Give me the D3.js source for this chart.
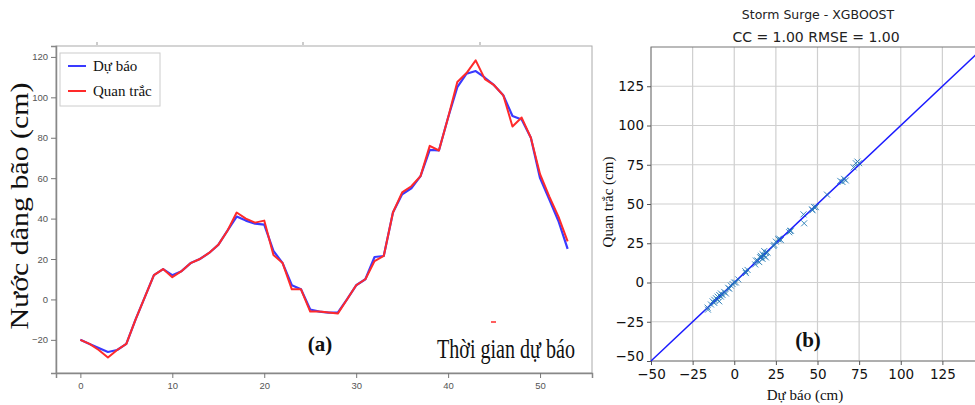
<!DOCTYPE html>
<html>
<head>
<meta charset="utf-8">
<script src="https://cdn.jsdelivr.net/npm/d3@7"></script>
<style>
  html, body { margin: 0; padding: 0; background: #fff; }
  svg { display: block; }
</style>
</head>
<body>
<svg id="chart" width="975" height="405"></svg>
<script>
// (a) chuỗi thời gian nước dâng: dự báo vs quan trắc
const steps = d3.range(0, 54)
const duBao = [-20, -22, -24, -26, -25, -22, -10, 1, 12, 15, 12, 14, 18, 20, 23, 27, 34, 41, 39, 37.5, 37,
  24, 18, 7, 5, -5, -6, -6.5, -6.5, 0, 7, 10, 21, 21.5, 43, 52, 55, 61, 74, 73.7, 90,
  105, 111.7, 113, 109.7, 106, 101, 90.8, 89, 80, 60, 49.5, 38.8, 25]
const quanTrac = [-20, -22, -25, -28.7, -25, -22, -10, 1, 12, 15, 11, 14, 18, 20, 23, 27, 34, 43, 40, 38, 39,
  22, 18, 5, 5, -6, -6, -6.5, -7, 0, 7, 10, 19, 21.5, 43, 53, 56, 61, 76, 73.7, 90,
  107.6, 112, 118.3, 109, 106, 101, 85.6, 90, 80, 62, 51, 41, 28.7]
const xTicksA = [0, 10, 20, 30, 40, 50]
const yTicksA = [-20, 0, 20, 40, 60, 80, 100, 120]

// (b) scatter: dự báo (x) vs quan trắc (y)
const scatX = [-16, -15.8, -14, -13, -12, -11, -10, -10, -9, -8, -8, -7, -6, -12, -9, -5, -3.6, -3, -2, -1, 0, 1,
  2.4, 6.6, 7, 8, 12.6, 13, 14, 15, 15.6, 16, 16, 17, 17, 18, 18, 19, 19, 20, 23.6, 24, 25, 26.5, 27, 28,
  33, 33.6, 34, 42, 41.6, 46.7, 47, 48, 49, 55.7, 63.7, 65, 66, 67, 71.7, 73, 74, 75]
const scatY = [-16, -17.3, -14, -12, -13, -10, -11, -9, -8, -9, -7, -8, -6, -11, -12, -7, -3.4, -4, -2, -1, 0, 0,
  2, 7.2, 6, 8, 11.5, 14, 14, 13, 16, 16, 17, 15, 18, 17, 20, 19, 16, 19, 23.2, 24, 26, 27.5, 28, 27,
  32, 32.8, 33, 37.7, 43.4, 46.6, 46, 48, 48, 56, 64.7, 64, 66, 65, 73.3, 76, 77, 76]
const ticksB = [-50, -25, 0, 25, 50, 75, 100, 125]

const svg = d3.select('#chart')
const serif = 'Liberation Serif, Times New Roman, serif'
const mpl = 'DejaVu Sans, sans-serif'

// ---------- panel (a) ----------
const xA = d3.scaleLinear().domain([-2.65, 55.65]).range([56, 592])
const yA = d3.scaleLinear().domain([-36.4, 125.4]).range([373, 46])

const gA = svg.append('g')

gA.append('rect')
  .attr('x', 56).attr('y', 46).attr('width', 536).attr('height', 327)
  .attr('fill', 'none').attr('stroke', '#aaa').attr('stroke-width', 1)

gA.append('g')
  .attr('transform', 'translate(0,373)')
  .call(d3.axisBottom(xA).tickValues(xTicksA).tickSize(5).tickPadding(4))
  .call(g => g.select('.domain').attr('stroke', '#888').attr('stroke-width', 1.5))
  .call(g => g.selectAll('line').attr('stroke', '#777'))
  .call(g => g.selectAll('text').attr('font-family', 'Liberation Sans, Arial, sans-serif').attr('font-size', 9.5).attr('fill', '#555'))

gA.append('g')
  .attr('transform', 'translate(56,0)')
  .call(d3.axisLeft(yA).tickValues(yTicksA).tickSize(5).tickPadding(3))
  .call(g => g.select('.domain').attr('stroke', '#888').attr('stroke-width', 1.5))
  .call(g => g.selectAll('line').attr('stroke', '#777'))
  .call(g => g.selectAll('text').attr('font-family', 'Liberation Sans, Arial, sans-serif').attr('font-size', 9.5).attr('fill', '#555'))

// little marks on the top border
gA.selectAll('.topmark').data([97, 303, 480]).join('line')
  .attr('x1', d => d).attr('x2', d => d).attr('y1', 42).attr('y2', 45)
  .attr('stroke', '#999').attr('stroke-width', 1)

const lineA = arr => d3.line().x((d, i) => xA(steps[i])).y(d => yA(d))(arr)

gA.append('path').attr('d', lineA(duBao))
  .attr('fill', 'none').attr('stroke', '#3a3aff').attr('stroke-width', 2.2).attr('stroke-linejoin', 'round')
gA.append('path').attr('d', lineA(quanTrac))
  .attr('fill', 'none').attr('stroke', '#ff2a2a').attr('stroke-width', 2).attr('stroke-linejoin', 'round')

// legend
const leg = gA.append('g')
leg.append('rect').attr('x', 60).attr('y', 53).attr('width', 100).attr('height', 53)
  .attr('fill', '#fff').attr('stroke', '#ccc')
const legItems = [['Dự báo', '#3a3aff'], ['Quan trắc', '#ff2a2a']]
legItems.forEach(([name, col], i) => {
  const y = 66 + i * 25
  leg.append('line').attr('x1', 68).attr('x2', 86).attr('y1', y).attr('y2', y)
    .attr('stroke', col).attr('stroke-width', 2)
  leg.append('text').attr('x', 93).attr('y', y + 5).text(name)
    .attr('font-family', serif).attr('font-size', 15).attr('fill', '#111')
})

gA.append('text')
  .attr('transform', 'translate(28,206) rotate(-90)')
  .attr('text-anchor', 'middle')
  .attr('font-family', serif).attr('font-size', 26)
  .attr('textLength', 247).attr('lengthAdjust', 'spacingAndGlyphs')
  .attr('fill', '#111')
  .text('Nước dâng bão (cm)')

gA.append('text').attr('x', 320).attr('y', 351).attr('text-anchor', 'middle')
  .attr('font-family', serif).attr('font-weight', 'bold').attr('font-size', 21).attr('fill', '#111')
  .text('(a)')

gA.append('text').attr('x', 437).attr('y', 358)
  .attr('font-family', serif).attr('font-size', 27)
  .attr('textLength', 138).attr('lengthAdjust', 'spacingAndGlyphs').attr('fill', '#111')
  .text('Thời gian dự báo')

gA.append('line').attr('x1', 491).attr('x2', 496).attr('y1', 322).attr('y2', 322)
  .attr('stroke', '#ff2a2a').attr('stroke-width', 1.5)

// ---------- panel (b) ----------
const xB = d3.scaleLinear().domain([-50, 150]).range([651, 984])
const yB = d3.scaleLinear().domain([-50, 150]).range([361, 47])

const gB = svg.append('g')

gB.append('g').selectAll('line.gx').data(ticksB).join('line')
  .attr('x1', d => xB(d)).attr('x2', d => xB(d)).attr('y1', 47).attr('y2', 361)
  .attr('stroke', '#cfcfcf').attr('stroke-width', 1.2)
gB.append('g').selectAll('line.gy').data(ticksB).join('line')
  .attr('x1', 651).attr('x2', 984).attr('y1', d => yB(d)).attr('y2', d => yB(d))
  .attr('stroke', '#cfcfcf').attr('stroke-width', 1.2)

gB.append('rect').attr('x', 651).attr('y', 47).attr('width', 333).attr('height', 314)
  .attr('fill', 'none').attr('stroke', '#777').attr('stroke-width', 1)

const fmt = d => d < 0 ? '\u2212' + Math.abs(d) : String(d)

gB.append('g')
  .attr('transform', 'translate(0,361)')
  .call(d3.axisBottom(xB).tickValues(ticksB).tickFormat(fmt).tickSize(4).tickPadding(4))
  .call(g => g.select('.domain').remove())
  .call(g => g.selectAll('line').attr('stroke', '#555'))
  .call(g => g.selectAll('text').attr('font-family', mpl).attr('font-size', 13.5).attr('fill', '#111'))

gB.append('g')
  .attr('transform', 'translate(651,0)')
  .call(d3.axisLeft(yB).tickValues(ticksB).tickFormat(fmt).tickSize(4).tickPadding(3))
  .call(g => g.select('.domain').remove())
  .call(g => g.selectAll('line').attr('stroke', '#555'))
  .call(g => g.selectAll('text').attr('font-family', mpl).attr('font-size', 13.5).attr('fill', '#111'))
  .call(g => g.selectAll('.tick').filter(d => d === -50).select('text').attr('dy', '-0.05em'))

// 1:1 line
gB.append('line')
  .attr('x1', xB(-50)).attr('y1', yB(-50)).attr('x2', xB(150)).attr('y2', yB(150))
  .attr('stroke', '#1a1aff').attr('stroke-width', 1.5)

// x markers
const pts = scatX.map((x, i) => [x, scatY[i]])
gB.append('g').selectAll('path.pt').data(pts).join('path')
  .attr('d', d => {
    const cx = xB(d[0]), cy = yB(d[1]), r = 3
    return `M${cx - r},${cy - r}L${cx + r},${cy + r}M${cx - r},${cy + r}L${cx + r},${cy - r}`
  })
  .attr('stroke', '#1f77b4').attr('stroke-width', 1).attr('fill', 'none').attr('opacity', 0.85)

gB.append('text').attr('x', 818).attr('y', 19).attr('text-anchor', 'middle')
  .attr('font-family', mpl).attr('font-size', 12.5).attr('fill', '#222')
  .text('Storm Surge - XGBOOST')
gB.append('text').attr('x', 816).attr('y', 42).attr('text-anchor', 'middle')
  .attr('font-family', mpl).attr('font-size', 14).attr('fill', '#222')
  .text('CC = 1.00 RMSE = 1.00')

gB.append('text')
  .attr('transform', 'translate(613,202) rotate(-90)')
  .attr('text-anchor', 'middle')
  .attr('font-family', serif).attr('font-size', 15).attr('fill', '#111')
  .text('Quan trắc (cm)')

gB.append('text').attr('x', 805).attr('y', 400).attr('text-anchor', 'middle')
  .attr('font-family', serif).attr('font-size', 15).attr('fill', '#111')
  .text('Dự báo (cm)')

gB.append('text').attr('x', 808).attr('y', 347).attr('text-anchor', 'middle')
  .attr('font-family', serif).attr('font-weight', 'bold').attr('font-size', 21).attr('fill', '#111')
  .text('(b)')
</script>
</body>
</html>
